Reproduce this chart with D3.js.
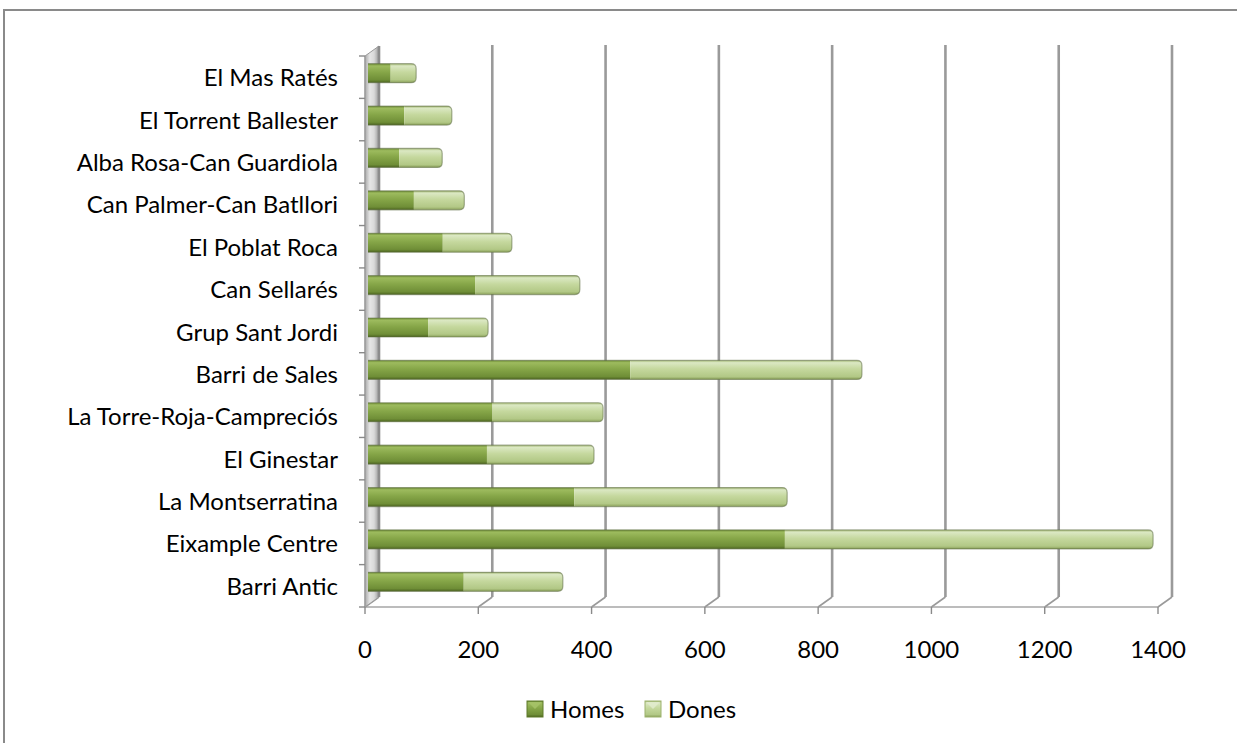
<!DOCTYPE html>
<html>
<head>
<meta charset="utf-8">
<script src="https://cdn.jsdelivr.net/npm/d3@7"></script>
<style>
  html, body { margin: 0; padding: 0; background: #fff; }
  svg { display: block; font-family: Lato, "Open Sans", sans-serif; }
</style>
</head>
<body>
<svg id="chart" width="1237" height="743"></svg>
<script>
// ---- data (first category is drawn at the bottom, as in the source) ----
const categories = [
  "Barri Antic", "Eixample Centre", "La Montserratina", "El Ginestar",
  "La Torre-Roja-Campreciós", "Barri de Sales", "Grup Sant Jordi",
  "Can Sellarés", "El Poblat Roca", "Can Palmer-Can Batllori",
  "Alba Rosa-Can Guardiola", "El Torrent Ballester", "El Mas Ratés"
];
const homes = [169, 736, 364, 210, 219, 463, 106, 189, 132, 81, 55, 64, 40];
const dones = [175, 650, 376, 189, 196, 409, 106, 185, 122, 89, 76, 84, 45];
const seriesNames = ["Homes", "Dones"];
const xTicks = [0, 200, 400, 600, 800, 1000, 1200, 1400];

// ---- layout ----
const svg = d3.select("#chart");
const W = 1237, H = 743;
const plot = { left: 365, right: 1158, top: 56, bottom: 607 };
const depth = { dx: 14, dy: -10 };
const barOff = { dx: 3, dy: -4 };
const barH = 19;
const fontSize = 24;

const x = d3.scaleLinear().domain([0, 1400]).range([plot.left, plot.right]);
const y = d3.scaleBand().domain(categories.slice().reverse())
  .range([plot.top, plot.bottom]).paddingInner(0).paddingOuter(0);

// ---- defs / gradients ----
const defs = svg.append("defs");
function vGrad(id, stops) {
  const g = defs.append("linearGradient").attr("id", id)
    .attr("x1", 0).attr("y1", 0).attr("x2", 0).attr("y2", 1);
  stops.forEach(s => g.append("stop").attr("offset", s[0]).attr("stop-color", s[1]));
}
vGrad("gHomes", [[0, "#6c8a34"], [0.12, "#9dbb5e"], [0.45, "#86a648"], [0.85, "#6f8e37"], [1, "#4c6420"]]);
vGrad("gDones", [[0, "#a3b874"], [0.12, "#dbe8c3"], [0.45, "#c5d89e"], [0.85, "#b2c886"], [1, "#8aa05a"]]);
const wallG = defs.append("linearGradient").attr("id", "gWall")
  .attr("x1", 0).attr("y1", 0).attr("x2", 1).attr("y2", 0);
[[0, "#a9a9a9"], [0.35, "#e6e6e6"], [0.65, "#d9d9d9"], [1, "#9a9a9a"]]
  .forEach(s => wallG.append("stop").attr("offset", s[0]).attr("stop-color", s[1]));

// ---- outer chart border ----
svg.append("path")
  .attr("d", `M4,${H + 5} L4,10 L${W + 5},10`)
  .attr("fill", "none").attr("stroke", "#8a8a8a").attr("stroke-width", 2);

// ---- back gridlines ----
const grid = svg.append("g");
grid.selectAll("line.grid").data(xTicks.slice(1)).join("line")
  .attr("x1", d => x(d) + depth.dx).attr("x2", d => x(d) + depth.dx)
  .attr("y1", plot.top + depth.dy - 1).attr("y2", plot.bottom + depth.dy)
  .attr("stroke", "#9a9a9a").attr("stroke-width", 2.6);

// ---- floor: front edge, depth diagonals and ticks ----
const floor = svg.append("g");
floor.append("line")
  .attr("x1", x(0)).attr("x2", x(1400))
  .attr("y1", plot.bottom).attr("y2", plot.bottom)
  .attr("stroke", "#a6a6a6").attr("stroke-width", 1.6);
floor.selectAll("path.diag").data(xTicks).join("path")
  .attr("d", d => `M${x(d)},${plot.bottom} L${x(d) + depth.dx},${plot.bottom + depth.dy}`)
  .attr("stroke", "#9a9a9a").attr("stroke-width", 1.6).attr("fill", "none");
floor.selectAll("line.tick").data(xTicks).join("line")
  .attr("x1", d => x(d)).attr("x2", d => x(d))
  .attr("y1", plot.bottom).attr("y2", plot.bottom + 7)
  .attr("stroke", "#8a8a8a").attr("stroke-width", 1.4);

// ---- left wall ----
const wall = svg.append("g");
wall.append("path")
  .attr("d", `M${plot.left},${plot.top} L${plot.left + depth.dx},${plot.top + depth.dy}
              L${plot.left + depth.dx},${plot.bottom + depth.dy} L${plot.left},${plot.bottom} Z`)
  .attr("fill", "url(#gWall)").attr("stroke", "#9a9a9a").attr("stroke-width", 1);
wall.append("line")
  .attr("x1", plot.left + depth.dx).attr("x2", plot.left + depth.dx)
  .attr("y1", plot.top + depth.dy).attr("y2", plot.bottom + depth.dy)
  .attr("stroke", "#8c8c8c").attr("stroke-width", 2.6);
wall.append("line")
  .attr("x1", plot.left).attr("x2", plot.left)
  .attr("y1", plot.top).attr("y2", plot.bottom)
  .attr("stroke", "#a0a0a0").attr("stroke-width", 1.4);
// category ticks
const bounds = d3.range(categories.length + 1).map(i => plot.top + i * y.step());
wall.selectAll("line.ctick").data(bounds).join("line")
  .attr("x1", plot.left - 6).attr("x2", plot.left)
  .attr("y1", d => d).attr("y2", d => d)
  .attr("stroke", "#8a8a8a").attr("stroke-width", 1.4);

// ---- bars ----
const stacked = categories.map((c, i) => ({
  cat: c,
  segs: [
    { s: 0, v0: 0, v1: homes[i] },
    { s: 1, v0: homes[i], v1: homes[i] + dones[i] }
  ]
}));
const bars = svg.append("g");
const r = 5;
stacked.forEach(d => {
  const yTop = y(d.cat) + y.bandwidth() / 2 - barH / 2 + barOff.dy;
  const g = bars.append("g");
  const xs = x(0) + barOff.dx;
  const xe = x(d.segs[1].v1) + barOff.dx;
  g.append("rect")
    .attr("x", xs).attr("y", yTop)
    .attr("width", x(d.segs[0].v1) - x(0)).attr("height", barH)
    .attr("fill", "url(#gHomes)");
  const xm = x(d.segs[0].v1) + barOff.dx;
  g.append("path")
    .attr("d", `M${xm},${yTop} L${xe - r},${yTop} Q${xe},${yTop} ${xe},${yTop + r}
                L${xe},${yTop + barH - r} Q${xe},${yTop + barH} ${xe - r},${yTop + barH}
                L${xm},${yTop + barH} Z`)
    .attr("fill", "url(#gDones)");
  g.append("path")
    .attr("d", `M${xs},${yTop} L${xe - r},${yTop} Q${xe},${yTop} ${xe},${yTop + r}
                L${xe},${yTop + barH - r} Q${xe},${yTop + barH} ${xe - r},${yTop + barH}
                L${xs},${yTop + barH}`)
    .attr("fill", "none").attr("stroke", "#5f6e45").attr("stroke-opacity", 0.55)
    .attr("stroke-width", 1.2);
});

// ---- category labels ----
svg.append("g").selectAll("text").data(categories).join("text")
  .attr("x", 338)
  .attr("y", d => y(d) + y.bandwidth() / 2 + 9)
  .attr("text-anchor", "end")
  .attr("font-size", fontSize).attr("fill", "#000")
  .text(d => d);

// ---- x tick labels ----
svg.append("g").selectAll("text").data(xTicks).join("text")
  .attr("x", d => x(d))
  .attr("y", 658)
  .attr("text-anchor", "middle")
  .attr("font-size", fontSize).attr("fill", "#000")
  .text(d => d);

// ---- legend ----
const legend = svg.append("g");
const legendX = [527, 645];
const legendY = 701;
seriesNames.forEach((name, i) => {
  const g = legend.append("g");
  g.append("rect")
    .attr("x", legendX[i]).attr("y", legendY).attr("width", 16).attr("height", 16)
    .attr("fill", i === 0 ? "url(#gHomes)" : "url(#gDones)")
    .attr("stroke", i === 0 ? "#5e7a2a" : "#9cb26c").attr("stroke-width", 1);
  g.append("path")
    .attr("d", `M${legendX[i] + 1},${legendY + 1} L${legendX[i] + 15},${legendY + 1} L${legendX[i] + 8},${legendY + 8} Z`)
    .attr("fill", i === 0 ? "#a8c46a" : "#e2ecd0").attr("opacity", 0.8);
  g.append("text")
    .attr("x", legendX[i] + 23).attr("y", legendY + 16.5)
    .attr("font-size", fontSize).attr("fill", "#000")
    .text(name);
});
</script>
</body>
</html>
